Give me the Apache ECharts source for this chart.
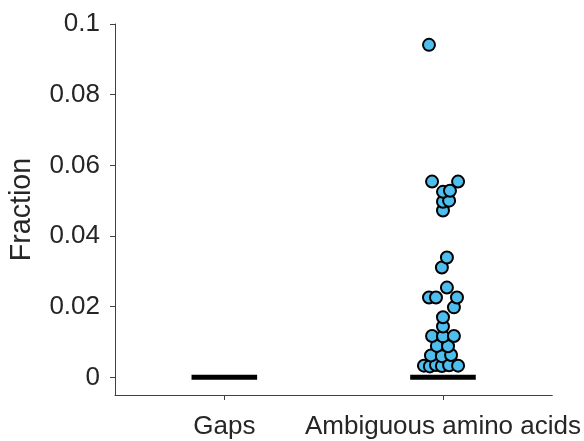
<!DOCTYPE html>
<html>
<head>
<meta charset="utf-8">
<script src="https://cdn.jsdelivr.net/npm/echarts@6/dist/echarts.min.js"></script>
<style>
  html, body { margin: 0; padding: 0; background: #fff; }
  #chart { width: 584px; height: 441px; }
</style>
</head>
<body>
<div id="chart"></div>
<script>
// categories and their medians
var categories = ['Gaps', 'Ambiguous amino acids'];
var medians = [0, 0];

// ambiguous amino acids: fraction per sample, and its swarm offset from the category centre
var ambigValues = [
    0.0033, 0.0031, 0.0035, 0.0032, 0.0034, 0.0033,
    0.0062, 0.0060, 0.0063,
    0.0089, 0.0088,
    0.0117, 0.0116, 0.0117,
    0.0144, 0.0170, 0.0198,
    0.0226, 0.0226, 0.0226,
    0.0254, 0.0311, 0.0339,
    0.0472, 0.0497, 0.0500, 0.0525, 0.0528,
    0.0554, 0.0554, 0.0941
];
var ambigOffsets = [
    -0.087, -0.060, -0.032, -0.005, 0.028, 0.069,
    -0.055, -0.005, 0.037,
    -0.028, 0.023,
    -0.050, 0, 0.050,
    0, 0, 0.050,
    -0.064, -0.032, 0.064,
    0.018, -0.005, 0.018,
    0, 0, 0.028, 0, 0.032,
    -0.050, 0.069, -0.064
];

var yTicks = [0, 0.02, 0.04, 0.06, 0.08, 0.1];

var textColor = '#262626';
var axisColor = '#404040';
var font = 'Liberation Sans, Arial, sans-serif';

var myChart = echarts.init(document.getElementById('chart'), null, {renderer: 'canvas'});

var points = [];
for (var i = 0; i < ambigValues.length; i++) {
    points.push([2 + ambigOffsets[i], ambigValues[i]]);
}

// median bars, one short thick line per category
var medianSeries = [];
for (var c = 0; c < categories.length; c++) {
    medianSeries.push({
        type: 'line',
        data: [[c + 1 - 0.15, medians[c]], [c + 1 + 0.15, medians[c]]],
        symbol: 'none',
        lineStyle: {color: '#000', width: 5},
        z: 3,
        silent: true
    });
}

var option = {
    animation: false,
    grid: {left: 115, right: 31, top: 24, bottom: 46},
    xAxis: {
        type: 'value',
        min: 0.5,
        max: 2.5,
        splitLine: {show: false},
        axisLine: {show: true, onZero: false, lineStyle: {color: axisColor, width: 1}},
        axisTick: {show: true, customValues: [1, 2], length: 5, inside: false,
            lineStyle: {color: axisColor}},
        axisLabel: {
            customValues: [1, 2],
            formatter: function (v) { return categories[Math.round(v) - 1]; },
            color: textColor, fontFamily: font, fontSize: 26, margin: 19
        }
    },
    yAxis: {
        type: 'value',
        min: -0.005,
        max: 0.1,
        name: 'Fraction',
        nameLocation: 'middle',
        nameGap: 78,
        nameTextStyle: {color: textColor, fontFamily: font, fontSize: 28.6},
        splitLine: {show: false},
        axisLine: {show: true, onZero: false, lineStyle: {color: axisColor, width: 1}},
        axisTick: {show: true, customValues: yTicks, length: 5, inside: false,
            lineStyle: {color: axisColor}},
        axisLabel: {
            customValues: yTicks,
            formatter: function (v) { return String(v); },
            color: textColor, fontFamily: font, fontSize: 26, margin: 15
        }
    },
    series: medianSeries.concat([{
        type: 'scatter',
        data: points,
        symbol: 'circle',
        symbolSize: 12,
        itemStyle: {color: '#4DBEEE', borderColor: '#000', borderWidth: 2, opacity: 1},
        z: 4
    }])
};

myChart.setOption(option);
</script>
</body>
</html>
